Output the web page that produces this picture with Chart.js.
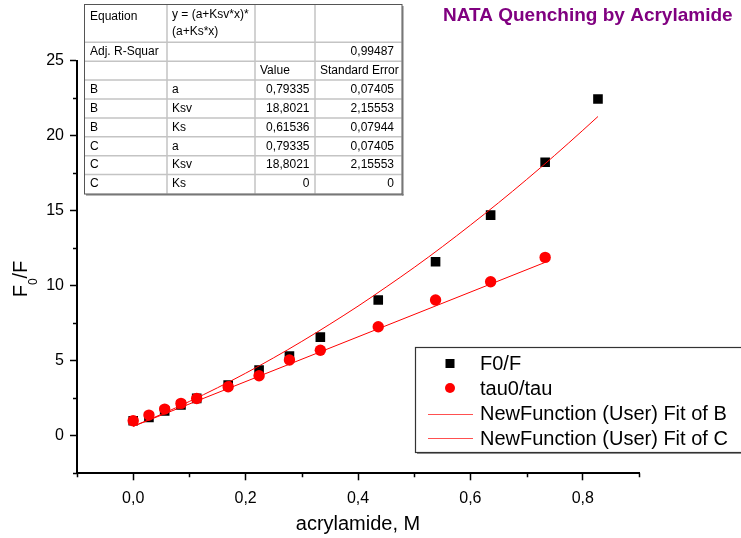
<!DOCTYPE html>
<html>
<head>
<meta charset="utf-8">
<script src="https://cdn.jsdelivr.net/npm/chart.js@4/dist/chart.umd.min.js"></script>
<style>
  html, body { margin: 0; padding: 0; background: #fff; }
  #wrap { width: 741px; height: 538px; position: relative; }
</style>
</head>
<body>
<div id="wrap"><canvas id="c" width="741" height="538"></canvas></div>
<script>
// Acrylamide concentration (M)
const acrylamide = [0, 0.028, 0.056, 0.085, 0.113, 0.169, 0.224, 0.278, 0.333, 0.436, 0.538, 0.636, 0.733, 0.827];
// Steady-state quenching F0/F
const f0OverF = [1.0, 1.23, 1.65, 2.05, 2.49, 3.38, 4.38, 5.31, 6.58, 9.05, 11.6, 14.71, 18.23, 22.45];
// Lifetime quenching tau0/tau (no point at the highest concentration)
const tau0OverTau = [1.0, 1.38, 1.78, 2.16, 2.49, 3.27, 4.0, 5.05, 5.7, 7.27, 9.05, 10.27, 11.89];

// Fitted curve B (static + dynamic quenching)
const fitBx = [0, 0.05, 0.1, 0.15, 0.2, 0.25, 0.3, 0.35, 0.4, 0.45, 0.5, 0.55, 0.6, 0.65, 0.7, 0.75, 0.8, 0.827];
const fitBy = [0.63, 1.43, 2.29, 3.20, 4.17, 5.20, 6.29, 7.44, 8.64, 9.91, 11.22, 12.60, 14.04, 15.53, 17.08, 18.69, 20.36, 21.28];
// Fitted line C (dynamic only)
const fitCx = [0, 0.733];
const fitCy = [0.63, 11.56];

const seriesLabels = ['F0/F', 'tau0/tau', 'NewFunction (User) Fit of B', 'NewFunction (User) Fit of C'];

// Axis ticks
const xTickValues = [0, 0.2, 0.4, 0.6, 0.8];
const xTickLabels = ['0,0', '0,2', '0,4', '0,6', '0,8'];
const xMinorTicks = [-0.1, 0.1, 0.3, 0.5, 0.7, 0.9];
const yTickValues = [0, 5, 10, 15, 20, 25];
const yTickLabels = ['0', '5', '10', '15', '20', '25'];
const yMinorTicks = [-2.5, 2.5, 7.5, 12.5, 17.5, 22.5];

// Fit parameter table
const tableHeader = ['Equation', ['y = (a+Ksv*x)*', '(a+Ks*x)'], '', ''];
const tableRSquare = ['Adj. R-Squar', '', '', '0,99487'];
const tableColumns = ['', '', 'Value', 'Standard Error'];
const tableParams = [
  ['B', 'a', '0,79335', '0,07405'],
  ['B', 'Ksv', '18,8021', '2,15553'],
  ['B', 'Ks', '0,61536', '0,07944'],
  ['C', 'a', '0,79335', '0,07405'],
  ['C', 'Ksv', '18,8021', '2,15553'],
  ['C', 'Ks', '0', '0']
];

const FONT = '"Liberation Sans", Arial, sans-serif';
Chart.defaults.font.family = FONT;
Chart.defaults.color = '#000';

const toPoints = (xs, ys) => ys.map((y, i) => ({ x: xs[i], y }));

const decorations = {
  id: 'decorations',
  afterDraw(chart) {
    const ctx = chart.ctx;
    const xs = chart.scales.x, ys = chart.scales.y;
    const area = chart.chartArea;
    ctx.save();

    // minor ticks
    ctx.strokeStyle = '#000';
    ctx.lineWidth = 1.5;
    ctx.beginPath();
    xMinorTicks.forEach(v => {
      const px = Math.round(xs.getPixelForValue(v)) + 0.5;
      ctx.moveTo(px, area.bottom); ctx.lineTo(px, area.bottom + 4);
    });
    yMinorTicks.forEach(v => {
      const py = Math.round(ys.getPixelForValue(v)) + 0.5;
      ctx.moveTo(area.left, py); ctx.lineTo(area.left - 4, py);
    });
    ctx.stroke();

    // x axis title
    ctx.fillStyle = '#000';
    ctx.font = '20px ' + FONT;
    ctx.textAlign = 'center';
    ctx.textBaseline = 'alphabetic';
    ctx.fillText('acrylamide, M', (area.left + area.right) / 2, 530);

    // y axis title F0/F with subscript
    ctx.save();
    ctx.translate(27, 279);
    ctx.rotate(-Math.PI / 2);
    ctx.textAlign = 'left';
    const big = '20px ' + FONT, small = '12px ' + FONT;
    ctx.font = big; const wF = ctx.measureText('F').width;
    ctx.font = small; const w0 = ctx.measureText('0').width;
    ctx.font = big; const wRest = ctx.measureText('/F').width;
    const total = wF + w0 + wRest;
    let x0 = -total / 2;
    ctx.font = big; ctx.fillText('F', x0, 0); x0 += wF;
    ctx.font = small; ctx.fillText('0', x0, 10); x0 += w0;
    ctx.font = big; ctx.fillText('/F', x0, 0);
    ctx.restore();

    // chart title
    ctx.font = 'bold 19px ' + FONT;
    ctx.fillStyle = '#800080';
    ctx.textAlign = 'left';
    ctx.fillText('NATA Quenching by Acrylamide', 443, 21);

    drawTable(ctx);
    drawLegend(ctx, chart);
    ctx.restore();
  }
};

function drawTable(ctx) {
  const cols = [84, 167, 255, 315, 401.5];
  const rows = [4, 42.3];
  for (let i = 1; i <= 8; i++) rows.push(42.3 + i * 18.9);
  const top = rows[0], bottom = rows[rows.length - 1];
  ctx.save();
  ctx.fillStyle = '#fff';
  ctx.fillRect(cols[0], top, cols[4] - cols[0], bottom - top);

  // inner grid
  ctx.strokeStyle = '#c4c4c4';
  ctx.lineWidth = 1.5;
  ctx.beginPath();
  for (let i = 1; i < rows.length - 1; i++) { ctx.moveTo(cols[0], rows[i]); ctx.lineTo(cols[4], rows[i]); }
  for (let j = 1; j < cols.length - 1; j++) { ctx.moveTo(cols[j], top); ctx.lineTo(cols[j], bottom); }
  ctx.stroke();

  // text
  ctx.fillStyle = '#000';
  ctx.font = '12px ' + FONT;
  ctx.textBaseline = 'middle';
  const cellText = (txt, col, cy, align) => {
    if (!txt) return;
    ctx.save();
    ctx.beginPath();
    ctx.rect(cols[col], cy - 10, cols[col + 1] - cols[col] - 1, 20);
    ctx.clip();
    if (align === 'right') { ctx.textAlign = 'right'; ctx.fillText(txt, cols[col + 1] - (col === 3 ? 7.5 : 5.5), cy); }
    else { ctx.textAlign = 'left'; ctx.fillText(txt, cols[col] + (col === 0 ? 6 : 5), cy); }
    ctx.restore();
  };
  cellText(tableHeader[0], 0, 17, 'left');
  cellText(tableHeader[1][0], 1, 15, 'left');
  cellText(tableHeader[1][1], 1, 32, 'left');
  const mid = i => (rows[i] + rows[i + 1]) / 2;
  cellText(tableRSquare[0], 0, mid(1), 'left');
  cellText(tableRSquare[3], 3, mid(1), 'right');
  cellText(tableColumns[2], 2, mid(2), 'left');
  cellText(tableColumns[3], 3, mid(2), 'left');
  tableParams.forEach((r, i) => {
    const cy = mid(3 + i);
    cellText(r[0], 0, cy, 'left');
    cellText(r[1], 1, cy, 'left');
    cellText(r[2], 2, cy, 'right');
    cellText(r[3], 3, cy, 'right');
  });

  // outer frame with shadow
  ctx.strokeStyle = '#555';
  ctx.lineWidth = 1;
  ctx.strokeRect(cols[0] + 0.5, top + 0.5, cols[4] - cols[0], bottom - top);
  ctx.fillStyle = '#777';
  ctx.fillRect(cols[4] + 0.5, top + 2, 1.5, bottom - top);
  ctx.fillRect(cols[0] + 2, bottom + 0.5, cols[4] - cols[0], 1.5);
  ctx.restore();
}

function drawLegend(ctx, chart) {
  const left = 415, top = 347, bottom = 452;
  ctx.save();
  ctx.fillStyle = '#fff';
  ctx.fillRect(left, top, 741 - left, bottom - top);
  ctx.strokeStyle = '#333';
  ctx.lineWidth = 1.2;
  ctx.strokeRect(left + 0.5, top + 0.5, 741 - left + 4, bottom - top);
  ctx.fillStyle = '#888';
  ctx.fillRect(left + 2, bottom + 1, 741 - left, 1);

  const ds = chart.data.datasets;
  const rowsY = [363.5, 388, 413.5, 438];
  ctx.font = '20px ' + FONT;
  ctx.textBaseline = 'middle';
  ctx.textAlign = 'left';
  ds.forEach((d, i) => {
    const cy = rowsY[i];
    if (d.showLine) {
      ctx.strokeStyle = '#ff5050';
      ctx.lineWidth = 1;
      ctx.beginPath();
      ctx.moveTo(428, Math.round(cy) + 0.5); ctx.lineTo(473, Math.round(cy) + 0.5);
      ctx.stroke();
    } else if (d.pointStyle === 'rect') {
      ctx.fillStyle = '#000';
      ctx.fillRect(445.5, cy - 4.5, 9, 9);
    } else {
      ctx.fillStyle = '#ff0000';
      ctx.beginPath(); ctx.arc(450, cy, 5, 0, Math.PI * 2); ctx.fill();
    }
    ctx.fillStyle = '#000';
    ctx.fillText(d.label, 480, cy + 1);
  });
  ctx.restore();
}

new Chart(document.getElementById('c'), {
  type: 'scatter',
  data: {
    datasets: [
      { label: seriesLabels[0], data: toPoints(acrylamide, f0OverF), pointStyle: 'rect', pointRadius: 6.8,
        backgroundColor: '#000', borderWidth: 0, order: 3 },
      { label: seriesLabels[1], data: toPoints(acrylamide, tau0OverTau), pointStyle: 'circle', pointRadius: 5.7,
        backgroundColor: '#ff0000', borderWidth: 0, order: 2 },
      { label: seriesLabels[2], data: toPoints(fitBx, fitBy), showLine: true, pointRadius: 0,
        borderColor: '#ff0000', borderWidth: 1, cubicInterpolationMode: 'monotone', order: 1 },
      { label: seriesLabels[3], data: toPoints(fitCx, fitCy), showLine: true, pointRadius: 0,
        borderColor: '#ff0000', borderWidth: 1, order: 0 }
    ]
  },
  options: {
    responsive: false,
    devicePixelRatio: 1,
    animation: false,
    events: [],
    layout: { padding: { left: 0, top: 60.7, right: 102, bottom: 0 } },
    plugins: { legend: { display: false }, tooltip: { enabled: false }, title: { display: false } },
    scales: {
      x: {
        type: 'linear', min: -0.1, max: 0.9,
        afterFit: s => { s.height = 64.7; },
        afterBuildTicks: s => { s.ticks = xTickValues.map(v => ({ value: v })); },
        ticks: { callback: (v, i) => xTickLabels[i], font: { size: 16 }, padding: 9, maxRotation: 0, autoSkip: false },
        grid: { drawOnChartArea: false, drawTicks: true, tickLength: 7, tickColor: '#000', tickWidth: 1.5 },
        border: { display: true, color: '#000', width: 2 }
      },
      y: {
        type: 'linear', min: -2.5, max: 25,
        afterFit: s => { s.width = 77; },
        afterBuildTicks: s => { s.ticks = yTickValues.map(v => ({ value: v })); },
        ticks: { callback: (v, i) => yTickLabels[i], font: { size: 16 }, padding: 6, autoSkip: false },
        grid: { drawOnChartArea: false, drawTicks: true, tickLength: 7, tickColor: '#000', tickWidth: 1.5 },
        border: { display: true, color: '#000', width: 2 }
      }
    }
  },
  plugins: [decorations]
});
</script>
</body>
</html>
